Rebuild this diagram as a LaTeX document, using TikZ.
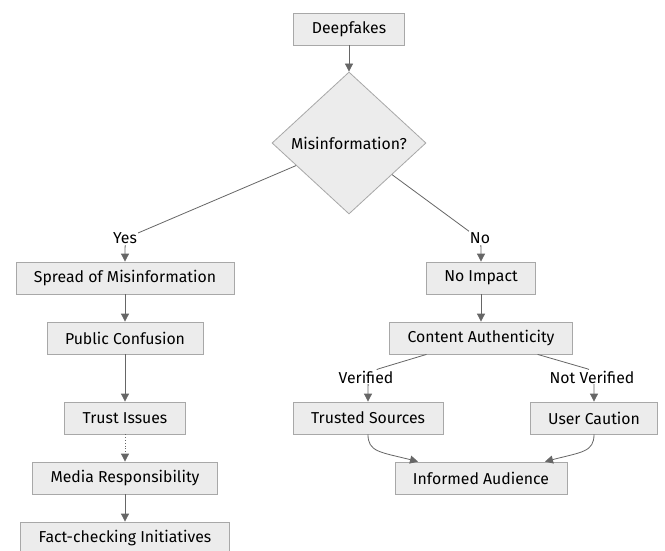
\documentclass[tikz,border=0pt]{standalone}
\usepackage{fontspec}
\setmainfont{Fira Sans}
\usetikzlibrary{arrows.meta,positioning,shapes.geometric}
\definecolor{boxfill}{HTML}{ECECEC}
\definecolor{boxline}{HTML}{A8A8A8}
\definecolor{edgegray}{HTML}{666666}
\tikzset{
  flowarr/.style={-{Triangle[length=8pt,width=8pt]}, draw=edgegray, line width=0.8pt},
  flowbox/.style={draw=boxline, fill=boxfill, line width=0.8pt, minimum height=32pt, inner xsep=18pt, align=center},
  flowlbl/.style={fill=white, inner sep=1pt},
}
\begin{document}
\begin{tikzpicture}[x=1pt, y=-1pt, font=\fontsize{15.8}{18}\selectfont]
  \clip (0,0) rectangle (665,551);
  \fill[white] (0,0) rectangle (665,551);

  % top
  \node[flowbox] (deep) at (349,29) {Deepfakes};
  \node[diamond, draw=boxline, fill=boxfill, line width=0.8pt, inner sep=0pt,
        minimum width=154pt, minimum height=142pt] (dia) at (349,143) {Misinformation?};

  % left branch
  \node[flowbox] (spread) at (125,278) {Spread of Misinformation};
  \node[flowbox] (confuse) at (125,338) {Public Confusion};
  \node[flowbox] (trust) at (125,418) {Trust Issues};
  \node[flowbox] (media) at (125,478) {Media Responsibility};
  \node[flowbox] (fact) at (125,538) {Fact-checking Initiatives};

  % right branch
  \node[flowbox] (noimp) at (481,278) {No Impact};
  \node[flowbox] (auth) at (481,338) {Content Authenticity};
  \node[flowbox] (trusted) at (368,418) {Trusted Sources};
  \node[flowbox] (caution) at (594,418) {User Caution};
  \node[flowbox] (informed) at (481,478) {Informed Audience};

  \coordinate (ybend) at (138,233);
  \coordinate (nbend) at (470,232);
  \coordinate (vbend) at (378,369);
  \coordinate (nvbend) at (588,369);

  \draw[flowarr] (deep) -- (dia);
  \draw[flowarr] (dia) -- (ybend) .. controls (125,239) .. (spread.north);
  \draw[flowarr] (dia) -- (nbend) .. controls (481,239) .. (noimp.north);
  \foreach \a/\b in {spread/confuse,confuse/trust,media/fact,noimp/auth}
    \draw[flowarr] (\a) -- (\b);
  \draw[flowarr, dotted] (trust) -- (media);
  \draw[flowarr] (auth) -- (vbend) .. controls (368,377) .. (trusted.north);
  \draw[flowarr] (auth) -- (nvbend) .. controls (594,377) .. (caution.north);
  \draw[flowarr] (trusted.south) .. controls (368,452) and (380,452) .. ([xshift=-63pt]informed.north);
  \draw[flowarr] (caution.south) .. controls (594,452) and (582,452) .. ([xshift=64pt]informed.north);

  % edge labels
  \node[flowlbl] (yes) at (125,238) {Yes};
  \node[flowlbl] (no) at (480,238) {No};
  \node[flowlbl] (ver) at (366,377) {Verified};
  \node[flowlbl] (nver) at (592,377) {Not Verified};
\end{tikzpicture}
\end{document}
